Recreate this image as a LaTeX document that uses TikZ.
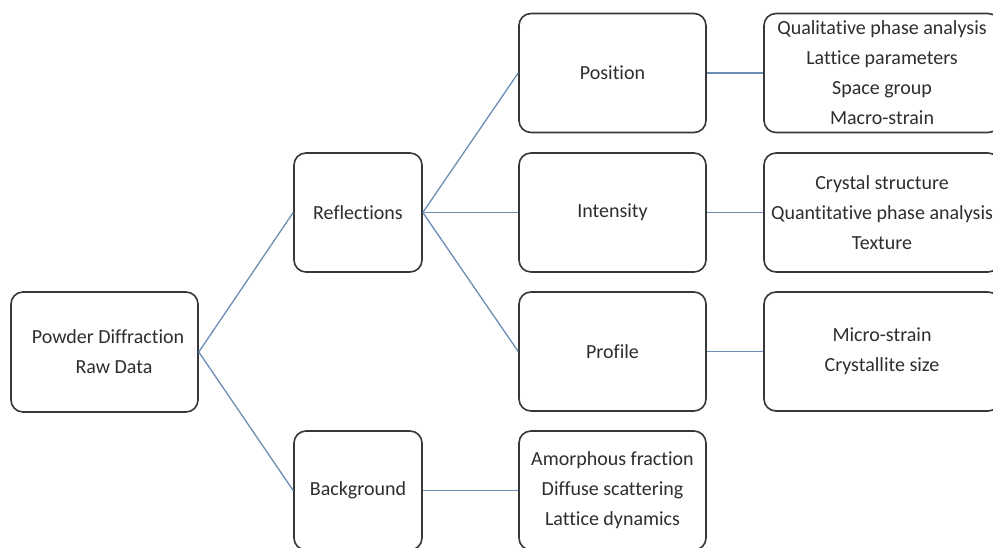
\documentclass[tikz,border=0pt]{standalone}
\usepackage{fontspec}
\setmainfont{Carlito}[Ligatures=NoCommon]
\definecolor{linkblue}{RGB}{108,142,180}
\definecolor{boxgrey}{RGB}{55,55,55}
\tikzset{
  box/.style={draw=boxgrey, line width=1.6pt, rounded corners=12pt, align=center,
    font=\fontsize{20}{30}\selectfont, text=black!82, inner sep=0pt},
  rootbox/.style={box, minimum width=187pt, minimum height=120pt},
  smallbox/.style={box, minimum width=128pt, minimum height=119pt},
  midbox/.style={box, minimum width=187pt, minimum height=119pt},
  resbox/.style={box, minimum width=236pt, minimum height=119pt},
  link/.style={draw=linkblue, line width=1.3pt}
}
\begin{document}
\begin{tikzpicture}[x=1pt,y=-1pt]

% Frame of the picture
\clip (0,0) rectangle (993,548);
\fill [white] (0,0) rectangle (993,548);

% Root of the tree
\node [rootbox] (raw) at (104.5,352) {\hspace*{7pt}Powder Diffraction\\\hspace*{19pt}Raw Data};

% Second level
\node [smallbox] (refl) at (358,212.5) {Reflections};
\node [smallbox] (bg) at (358,490.5) {Background};

% Third level
\node [midbox] (pos) at (612.5,73) {Position};
\node [midbox] (int) at (612.5,212.5) {Intensity};
\node [midbox] (prof) at (612.5,351.5) {Profile};
\node [midbox] (bginfo) at (612.5,490.5) {Amorphous fraction\\Diffuse scattering\\Lattice dynamics};

% What can be learned from each feature
\node [resbox] (posinfo) at (882,73) {Qualitative phase analysis\\Lattice parameters\\Space group\\Macro-strain};
\node [resbox] (intinfo) at (882,212.5) {Crystal structure\\Quantitative phase analysis\\Texture};
\node [resbox] (profinfo) at (882,351.5) {Micro-strain\\Crystallite size};

% Connectors between the levels
\draw [link] (raw.east)--(refl.west);
\draw [link] (raw.east)--(bg.west);
\draw [link] (refl.east)--(pos.west);
\draw [link] (refl.east)--(int.west);
\draw [link] (refl.east)--(prof.west);
\draw [link] (bg.east)--(bginfo.west);
\draw [link] (pos.east)--(posinfo.west);
\draw [link] (int.east)--(intinfo.west);
\draw [link] (prof.east)--(profinfo.west);

\end{tikzpicture}
\end{document}
